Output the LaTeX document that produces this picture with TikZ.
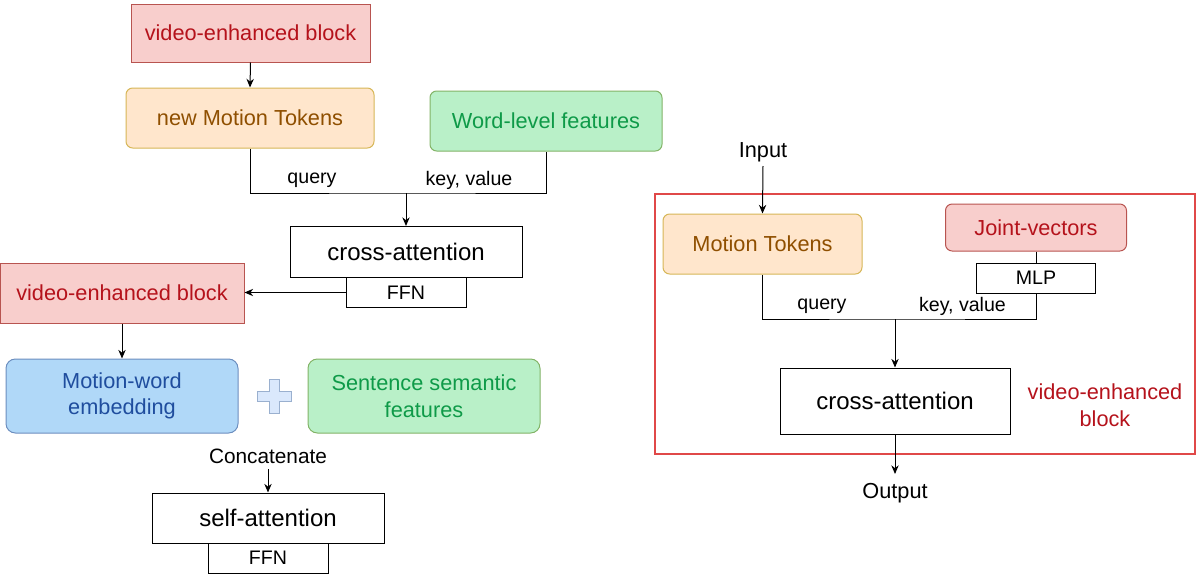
\documentclass[tikz,border=0pt]{standalone}
\usepackage{fontspec}
\setmainfont{Liberation Sans}
\usetikzlibrary{arrows.meta}
\definecolor{redfill}{HTML}{F8CECC}
\definecolor{redline}{HTML}{B85450}
\definecolor{redtext}{HTML}{B5121B}
\definecolor{orfill}{HTML}{FFE6CC}
\definecolor{orline}{HTML}{D6B656}
\definecolor{ortext}{HTML}{8F4F00}
\definecolor{grfill}{HTML}{B9F0C8}
\definecolor{grline}{HTML}{82B366}
\definecolor{grtext}{HTML}{0E9A48}
\definecolor{blfill}{HTML}{B0D8F8}
\definecolor{blline}{HTML}{6C8EBF}
\definecolor{bltext}{HTML}{1F4D9E}
\definecolor{plusfill}{HTML}{DAE8FC}
\definecolor{plusline}{HTML}{9AB0CF}
\definecolor{boxred}{HTML}{E04848}
\newcommand{\fbig}{\fontsize{18}{21}\selectfont}
\newcommand{\fmid}{\fontsize{16.3}{20}\selectfont}
\newcommand{\fsmall}{\fontsize{14.7}{17}\selectfont}
\tikzset{
  base/.style={draw, line width=0.75pt, inner sep=0pt, align=center},
  redbox/.style={base, fill=redfill, draw=redline, text=redtext, font=\fmid},
  orbox/.style={base, rounded corners=5pt, fill=orfill, draw=orline, text=ortext, font=\fmid},
  grbox/.style={base, rounded corners=5pt, fill=grfill, draw=grline, text=grtext, font=\fmid},
  blbox/.style={base, rounded corners=7pt, fill=blfill, draw=blline, text=bltext, font=\fmid},
  attbox/.style={base, fill=white, draw=black, font=\fbig},
  smallbox/.style={base, fill=white, draw=black, font=\fsmall, minimum width=90pt, minimum height=22.5pt},
  lbl/.style={inner sep=0pt, font=\fsmall},
  lblmid/.style={inner sep=0pt, font=\fmid},
  conn/.style={line width=0.75pt},
  arr/.style={line width=0.75pt, -{Stealth[length=6.5pt,width=5.5pt]}}
}
\begin{document}
\begin{tikzpicture}[x=0.75pt,y=-0.75pt]
\useasboundingbox (0,0) rectangle (1197,575);
% ---------- left part ----------
\node[redbox, minimum width=179.25pt, minimum height=43.5pt] (veb1) at (250.5,33) {video-enhanced block};
\node[orbox, minimum width=186pt, minimum height=45pt] (nmt) at (250,118) {new Motion Tokens};
\node[grbox, minimum width=174pt, minimum height=45pt] (wl) at (546,121) {Word-level features};
\node[attbox, minimum width=174pt, minimum height=38.25pt] (ca1) at (406,252) {cross-attention};
\node[smallbox] (ffn1) at (406,292.5) {FFN};
\node[redbox, minimum width=183pt, minimum height=45pt] (veb2) at (122,293) {video-enhanced block};
\node[blbox, minimum width=174pt, minimum height=55.5pt] (me) at (122,396) {Motion-word\\embedding};
\node[grbox, rounded corners=7pt, minimum width=174pt, minimum height=55.5pt] (ssf) at (424,396) {Sentence semantic\\features};
\node[lblmid, font=\fontsize{15.6}{18}\selectfont] (concat) at (268,456) {Concatenate};
\node[attbox, minimum width=174pt, minimum height=37.5pt] (sa) at (268,518) {self-attention};
\node[smallbox] (ffn2) at (268,558) {FFN};
% plus sign
\coordinate (plus) at (274,396);
\draw[fill=plusfill, draw=plusline, line width=0.75pt]
  ([shift={(-17,-5)}]plus) -- ([shift={(-5,-5)}]plus) -- ([shift={(-5,-17)}]plus) -- ([shift={(5,-17)}]plus)
  -- ([shift={(5,-5)}]plus) -- ([shift={(17,-5)}]plus) -- ([shift={(17,5)}]plus) -- ([shift={(5,5)}]plus)
  -- ([shift={(5,17)}]plus) -- ([shift={(-5,17)}]plus) -- ([shift={(-5,5)}]plus) -- ([shift={(-17,5)}]plus) -- cycle;
% connectors
\draw[arr] (veb1.south) -- (nmt.north);
\coordinate (j1) at (406,193);
\draw[conn] (nmt.south) |- (j1) -| (wl.south);
\draw[arr] (j1) -- (ca1.north);
\node[lbl] (q1) at (312,180) {query};
\node[lbl] (kv1) at (469,180) {key, value};
\draw[arr] (ffn1.west) -- (veb2.east |- ffn1.west);
\draw[arr] (veb2.south) -- (me.north);
\coordinate (c1) at (268,469);
\draw[arr] (c1) -- (sa.north);
% ---------- right part ----------
\node[lblmid] (inp) at (763,152) {Input};
\draw[draw=boxred, line width=0.9pt] (655,194) rectangle (1195,454);
\node[orbox, minimum width=149.25pt, minimum height=45pt] (mt) at (762.5,244) {Motion Tokens};
\node[redbox, rounded corners=5pt, minimum width=135.75pt, minimum height=35.25pt] (jv) at (1036,227.5) {Joint-vectors};
\node[smallbox, minimum width=89.25pt] (mlp) at (1036,278) {MLP};
\node[attbox, minimum width=172.5pt, minimum height=49.5pt] (ca2) at (895,401) {cross-attention};
\node[lblmid, text=redtext, align=center, font=\fontsize{16.3}{20.3}\selectfont] (vebl) at (1105,405) {video-enhanced\\block};
\node[lblmid] (outp) at (895,493) {Output};
\coordinate (inpc) at (763,166);
\draw[arr] (inpc) -- (mt.north);
\draw[conn] (jv.south) -- (mlp.north);
\coordinate (j2) at (895,319);
\draw[conn] (mt.south) |- (j2) -| (mlp.south);
\draw[arr] (j2) -- (ca2.north);
\node[lbl] (q2) at (822,306) {query};
\node[lbl] (kv2) at (962.5,306) {key, value};
\coordinate (outc) at (895,474);
\draw[arr] (ca2.south) -- (outc);
\end{tikzpicture}
\end{document}
